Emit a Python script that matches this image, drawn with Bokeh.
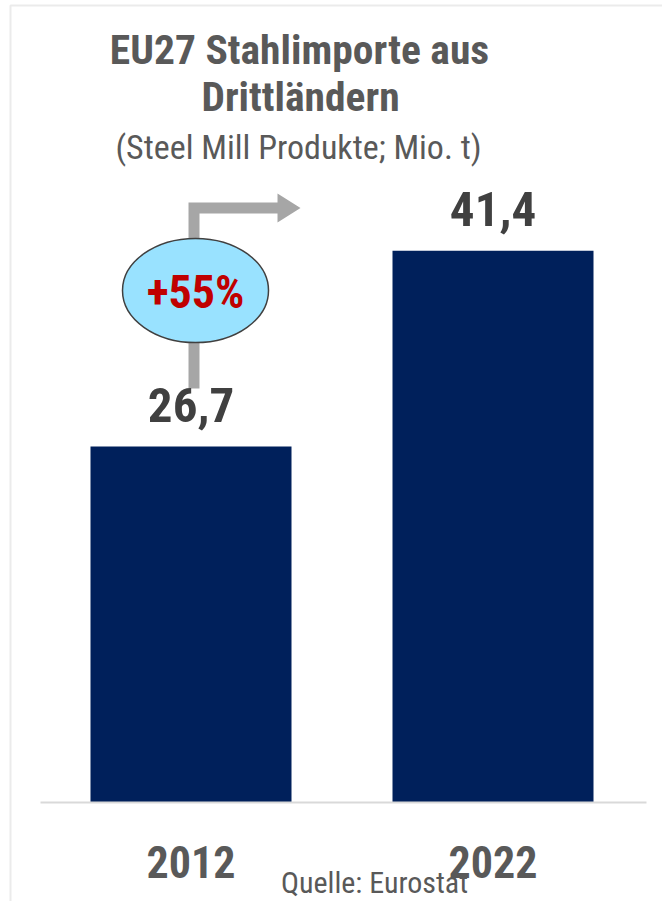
from bokeh.plotting import figure
from bokeh.models import Range1d, InlineStyleSheet
from bokeh.core.properties import value
from bokeh.embed import file_html
from bokeh.resources import INLINE

# ---- data ----
years = ["2012", "2022"]
imports = [26.7, 41.4]
value_labels = ["26,7", "41,4"]
change_label = "+55%"
title_lines = ["EU27 Stahlimporte aus", "Drittländern"]
subtitle = "(Steel Mill Produkte; Mio. t)"
source = "Quelle: Eurostat"

W, H = 662, 901
FONT = "Roboto Condensed, Noto Sans, Liberation Sans"

PX_PER_UNIT_Y = 13.33
BASE_PIX = 802.0
X0_PIX, DX_PIX = 190.5, 302.0

y_end = BASE_PIX / PX_PER_UNIT_Y
y_start = -(H - BASE_PIX) / PX_PER_UNIT_Y
x_start = -X0_PIX / DX_PIX
x_end = (W - X0_PIX) / DX_PIX

def px(xp):
    return (xp - X0_PIX) / DX_PIX

def py(yp):
    return (BASE_PIX - yp) / PX_PER_UNIT_Y

p = figure(width=W, height=H, output_backend="svg", toolbar_location=None,
           x_range=Range1d(x_start, x_end), y_range=Range1d(y_start, y_end),
           min_border=0, min_border_left=0, min_border_right=0,
           min_border_top=0, min_border_bottom=0)
p.stylesheets = [InlineStyleSheet(css=":host { font-stretch: condensed; }")]
p.axis.visible = False
p.grid.visible = False
p.outline_line_color = None
p.background_fill_color = "white"
p.border_fill_color = "white"

idx = list(range(len(years)))

# faint frame
p.line(x=[px(10), px(10), px(670)], y=[py(905), py(5), py(5)],
       line_color="#EBEBEB", line_width=2)

# bars
p.vbar(x=idx, top=imports, bottom=0, width=201 / DX_PIX,
       fill_color="#00205B", line_color=None)

# baseline
p.line(x=[px(40), px(646)], y=[0, 0], line_color="#D9D9D9", line_width=2)

# growth arrow (gray elbow with head)
ax = 193.5
aw = 5.5
ay = 207.5
arrow_x = [ax - aw, ax - aw, 277, 277, 300, 277, 277, ax + aw, ax + aw]
arrow_y = [388, ay - aw, ay - aw, 193, ay, 222, ay + aw, ay + aw, 388]
p.patch(x=[px(v) for v in arrow_x], y=[py(v) for v in arrow_y],
        fill_color="#A6A6A6", line_color=None)

common = dict(text_font=value(FONT), text_align="center", text_baseline="middle")

# value labels
p.text(x=idx, y=[v + (42 / PX_PER_UNIT_Y) for v in imports], text=value_labels,
       text_font_style="bold", text_font_size="49px", text_color="#404040", **common)

# year labels
p.text(x=idx, y=[py(861.5)] * len(years), text=years,
       text_font_style="bold", text_font_size="44px", text_color="#595959", **common)

# title & subtitle
p.text(x=[px(299), px(300)], y=[py(49), py(96)], text=title_lines,
       text_font_style="bold", text_font_size="41.5px", text_color="#595959", **common)
p.text(x=[px(298)], y=[py(146)], text=[subtitle],
       text_font_size="34px", text_color="#595959", **common)

# source
p.text(x=[px(374)], y=[py(882)], text=[source],
       text_font_size="30px", text_color="#595959", **common)

# ellipse with change label
p.ellipse(x=[px(195)], y=[py(290)], width=146, height=104,
          width_units="screen", height_units="screen",
          fill_color="#99E2FF", line_color="#404040", line_width=1.5)
p.text(x=[px(195)], y=[py(291.5)], text=[change_label],
       text_font_style="bold", text_font_size="46px", text_color="#C00000", **common)

open("out.html", "w").write(file_html(p, INLINE))
